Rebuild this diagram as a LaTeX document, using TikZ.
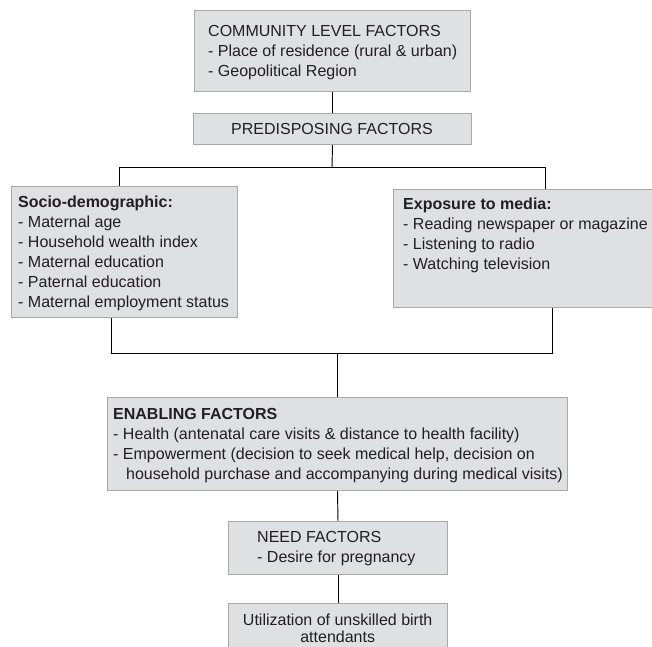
\documentclass[tikz,border=0pt]{standalone}
\usepackage{fontspec}
\setmainfont{Liberation Sans}
\definecolor{boxfill}{HTML}{DFE0E2}
\definecolor{boxdraw}{HTML}{A8A8A8}
\definecolor{txtcol}{HTML}{231F20}
\tikzset{
  box/.style={draw=boxdraw, fill=boxfill, line width=1pt, rectangle, inner sep=0pt, anchor=north west},
  txt/.style={anchor=base west, inner sep=0pt, text=txtcol, font=\fontsize{16}{20}\selectfont},
  ctxt/.style={anchor=base, inner sep=0pt, text=txtcol, font=\fontsize{16}{20}\selectfont},
  conn/.style={draw=black, line width=0.95pt}
}
\newcommand{\linesbox}[1]{\parbox[t]{460pt}{\fontsize{16}{20}\selectfont\raggedright #1}}
\newcommand{\cenbox}[2]{\parbox[t]{#1}{\fontsize{16}{17}\selectfont\centering #2}}
\begin{document}
\begin{tikzpicture}[x=1pt,y=-1pt]
\useasboundingbox (0,0) rectangle (652,646);
% boxes
\node[box, minimum width=276pt, minimum height=81pt] (comm) at (194,10) {};
\node[box, minimum width=278pt, minimum height=31pt] (pred) at (193,113) {};
\node[box, minimum width=226pt, minimum height=131pt] (socio) at (11,186) {};
\node[box, minimum width=270pt, minimum height=118pt] (expo) at (393,189) {};
\node[box, minimum width=460pt, minimum height=93pt] (enab) at (107,397) {};
\node[box, minimum width=219pt, minimum height=53pt] (need) at (228,521) {};
\node[box, minimum width=219pt, minimum height=60pt] (util) at (228,603) {};
% texts
\node[txt] (commt) at (208,36) {\linesbox{COMMUNITY LEVEL FACTORS\\- Place of residence (rural \& urban)\\- Geopolitical Region}};
\node[ctxt] (predt) at (332,134) {PREDISPOSING FACTORS};
\node[txt] (sociot) at (18,207) {\linesbox{\textbf{Socio-demographic:}\\- Maternal age\\- Household wealth index\\- Maternal education\\- Paternal education\\- Maternal employment status}};
\node[txt] (expot) at (403,209) {\linesbox{\textbf{Exposure to media:}\\- Reading newspaper or magazine\\- Listening to radio\\- Watching television}};
\node[txt] (enabt) at (113,419) {\linesbox{\textbf{ENABLING FACTORS}\\- Health (antenatal care visits \& distance to health facility)\\- Empowerment (decision to seek medical help, decision on\\\hspace*{13pt}household purchase and accompanying during medical visits)}};
\node[txt] (needt) at (257,542) {\linesbox{NEED FACTORS\\- Desire for pregnancy}};
\node[txt] (utilt) at (228,625) {\cenbox{219pt}{Utilization of unskilled birth\\attendants}};
% connectors
\coordinate (split) at (332,167);
\coordinate (sl) at (119,167);
\coordinate (sr) at (545,167);
\coordinate (jl) at (111,353);
\coordinate (jr) at (552,353);
\coordinate (jm) at (337,353);
\draw[conn] (comm.south) -- (pred.north);
\draw[conn] (pred.south) -- (split);
\draw[conn] (socio.north -| sl) -- (sl) -- (sr) -- (expo.north -| sr);
\draw[conn] (socio.south -| jl) -- (jl) -- (jr) -- (expo.south -| jr);
\draw[conn] (jm) -- (enab.north -| jm);
\draw[conn] (enab.south) -- (need.north);
\draw[conn] (need.south) -- (util.north);
\end{tikzpicture}
\end{document}
